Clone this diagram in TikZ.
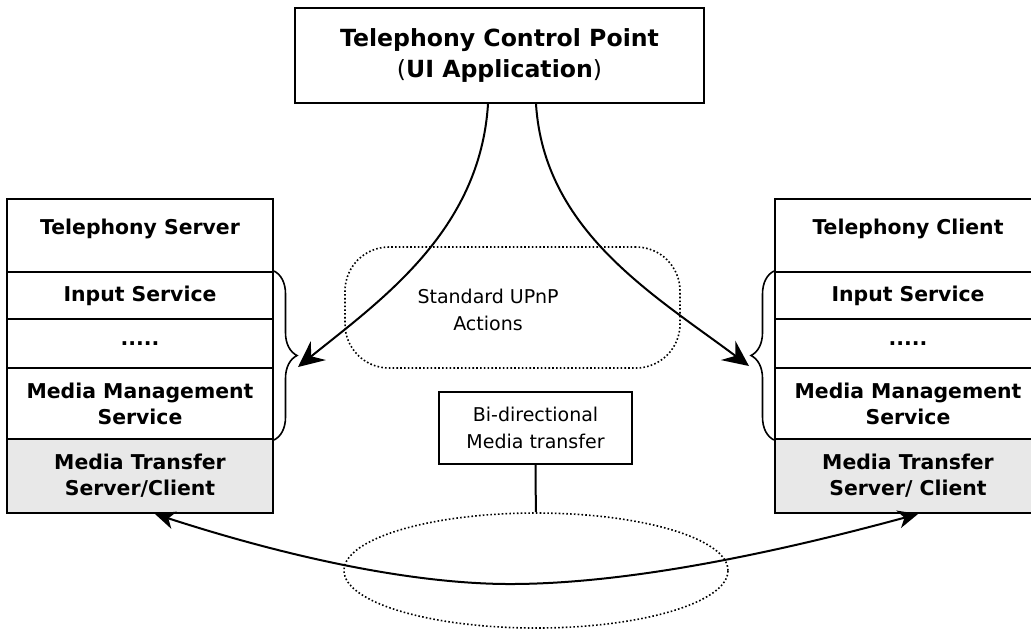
\documentclass[tikz,border=0pt]{standalone}
\usepackage{fontspec}
\setmainfont{DejaVu Sans}
\usetikzlibrary{arrows.meta}
\usetikzlibrary{calc}
\usetikzlibrary{shapes.geometric}
\usetikzlibrary{decorations.pathreplacing}

\begin{document}
\begin{tikzpicture}[x=0.5pt,y=-0.5pt,
    layer/.style={draw, line width=1pt, minimum width=133pt, inner sep=0pt, align=center, font=\fontsize{10.2}{13}\selectfont\bfseries},
    region/.style={draw, line width=0.8pt, dash pattern=on 0.8pt off 1.1pt},
    plain/.style={font=\fontsize{9.5}{13.5}\selectfont, align=center},
    bigtip/.style={-{Stealth[length=13pt, width=12pt, inset=4.5pt]}},
    smalltip/.style={{Stealth[length=10pt, width=9pt, inset=3pt]}-{Stealth[length=10pt, width=9pt, inset=3pt]}}]

    \clip (0,0) rectangle (1031,634);

    \node[draw, line width=1pt, minimum width=204.5pt, minimum height=47.5pt, align=center, font=\fontsize{11.8}{15.5}\selectfont] (cp) at (499.5,55.5) {\textbf{Telephony Control Point}\\(\textbf{UI Application})};

    \foreach \s/\x/\role/\tail in {ls/140/Server/{Server/Client}, rs/908/Client/{Server/ Client}} {
      \node[layer, minimum height=36.5pt, text height=8pt, text depth=9pt] (\s-head) at (\x,235.5) {Telephony \role};
      \node[layer, minimum height=23.5pt] (\s-in) at (\x,295.5) {Input Service};
      \node[layer, minimum height=24.5pt] (\s-dots) at (\x,343.5) {.....};
      \node[layer, minimum height=35.5pt] (\s-mms) at (\x,403.5) {Media Management\\Service};
      \node[layer, minimum height=37pt, fill=black!9] (\s-mt) at (\x,476) {Media Transfer\\\tail};
    }

    % braces round the service rows
    \draw[line width=0.8pt, decorate, decoration={brace, amplitude=11.5pt}] (ls-in.north east) -- (ls-mms.south east);
    \draw[line width=0.8pt, decorate, decoration={brace, amplitude=11.5pt}] (rs-mms.south west) -- (rs-in.north west);

    \node[region, minimum width=167.5pt, minimum height=60.5pt, rounded corners=22pt] (actions) at (512.5,307.5) {};
    \node[plain] (upnp) at (488,310) {Standard UPnP\\Actions};

    \node[draw, line width=1pt, minimum width=96.5pt, minimum height=36pt, plain] (bidir) at (535.5,428) {Bi-directional\\Media transfer};
    \node[region, ellipse, minimum width=192pt, minimum height=57.5pt] (flow) at (536,570.5) {};
    \draw[line width=1pt] (bidir) -- (flow);

    \draw[line width=1pt, bigtip] ($(cp.south)+(-11.5,0)$) .. controls +(-8,127) and +(83,-67) .. ($(ls-dots.east)+(24,23.5)$);
    \draw[line width=1pt, bigtip] ($(cp.south)+(36.5,0)$) .. controls +(8,127) and +(-95,-71) .. ($(rs-dots.west)+(-25,22.5)$);

    \coordinate (dip) at (510,584);
    \draw[line width=1pt, smalltip] ($(ls-mt.south)+(15,0)$) .. controls +(145,47) and (420,584) .. (dip) .. controls (640,584) and +(-118,32) .. ($(rs-mt.south)+(10,0)$);
  \end{tikzpicture}
\end{document}
